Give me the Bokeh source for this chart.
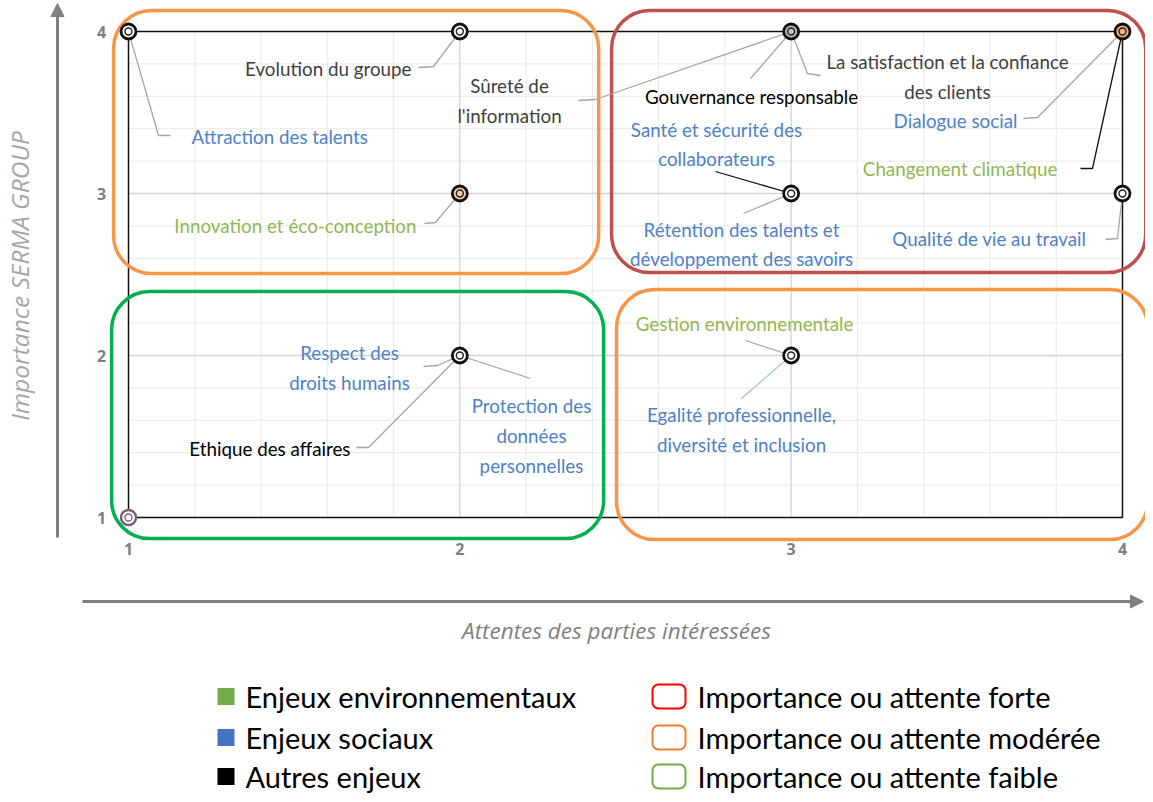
from bokeh.plotting import figure
from bokeh.models import Range1d, Arrow, NormalHead
from bokeh.core.properties import value
from bokeh.embed import file_html
from bokeh.resources import INLINE

# ---------------- data ----------------
labels = [
    "Attraction des talents",
    "Evolution du groupe",
    "Sûreté de\nl'information",
    "Gouvernance responsable",
    "La satisfaction et la confiance\ndes clients",
    "Dialogue social",
    "Changement climatique",
    "Innovation et éco-conception",
    "Santé et sécurité des\ncollaborateurs",
    "Rétention des talents et\ndéveloppement des savoirs",
    "Qualité de vie au travail",
    "Respect des\ndroits humains",
    "Protection des\ndonnées\npersonnelles",
    "Ethique des affaires",
    "Gestion environnementale",
    "Egalité professionnelle,\ndiversité et inclusion",
]
attentes = [1, 2, 3, 3, 3, 4, 4, 2, 3, 3, 4, 2, 2, 2, 3, 3]      # x
importance = [4, 4, 4, 4, 4, 4, 4, 3, 3, 3, 3, 2, 2, 2, 2, 2]    # y
categories = ["soc", "autre", "autre", "autre", "autre", "soc", "env", "env",
              "soc", "soc", "soc", "soc", "soc", "autre", "env", "soc"]
extra_x = [1]   # unlabeled point
extra_y = [1]

x_ticks = [1, 2, 3, 4]
y_ticks = [1, 2, 3, 4]
tick_labels = ["1", "2", "3", "4"]

legend_cat = ["Enjeux environnementaux", "Enjeux sociaux", "Autres enjeux"]
legend_zone = ["Importance ou attente forte", "Importance ou attente modérée",
               "Importance ou attente faible"]

# ---------------- layout helpers (reference pixel -> data) ----------------
def X(px):
    return 1 + (px - 128) / 331.33

def Y(py):
    return 4 - (py - 31) / 162.0

W, H = 1145, 794
p = figure(width=W, height=H, x_range=Range1d(X(0), X(W)),
           y_range=Range1d(Y(H), Y(0)), x_axis_type=None, y_axis_type=None,
           toolbar_location=None, output_backend="svg", min_border=0)
p.outline_line_color = None
p.background_fill_color = "white"
p.border_fill_color = "white"

FONT = "Lato"
LBL_SIZE = "18.8px"
cat_color = {"env": "#8fb852", "soc": "#4f81c4", "autre": "#2b2b2b"}

# ---------------- grid ----------------
minor = [1 + i * 0.2 for i in range(1, 15) if i % 5 != 0]
p.segment(x0=minor, x1=minor, y0=[1] * len(minor), y1=[4] * len(minor),
          line_color="#e9e9e9", line_width=1)
p.segment(x0=[1] * len(minor), x1=[4] * len(minor), y0=minor, y1=minor,
          line_color="#e9e9e9", line_width=1)
p.segment(x0=[2, 3], x1=[2, 3], y0=[1, 1], y1=[4, 4], line_color="#d4d4d4", line_width=1.3)
p.segment(x0=[1, 1], x1=[4, 4], y0=[2, 3], y1=[2, 3], line_color="#d4d4d4", line_width=1.3)
p.quad(left=[1], right=[4], bottom=[1], top=[4], fill_alpha=0,
       line_color="#111111", line_width=1.5)

# ---------------- zones (rounded rectangles) ----------------
zones = [
    (0.955, 2.419, 2.506, 4.13, "#f79646"),
    (2.458, 4.070, 2.512, 4.13, "#c0504d"),
    (0.949, 2.434, 0.870, 2.395, "#00b050"),
    (2.473, 4.076, 0.864, 2.407, "#f79646"),
]
for l, r, b, t, c in zones:
    p.quad(left=[l], right=[r], bottom=[b], top=[t], fill_alpha=0,
           line_color=c, line_width=3.5, border_radius=38)

# ---------------- leader lines ----------------
GRAY = "#a6a6a6"
leaders = [
    ([(158, 135), (170, 135)], GRAY),
    ([(433, 66), (418, 67)], GRAY),
    ([(595, 99), (578, 100)], GRAY),
    ([(750, 78)], GRAY),
    ([(807, 73), (820, 75)], GRAY),
    ([(1037, 117), (1023, 118)], GRAY),
    ([(1092, 168), (1080, 168)], "#111111"),
    ([(435, 222), (424, 223)], GRAY),
    ([(715, 171)], "#111111"),
    ([(743, 213)], GRAY),
    ([(1117, 238), (1105, 239)], GRAY),
    ([(437, 365), (423, 366)], GRAY),
    ([(530, 378)], GRAY),
    ([(368, 447), (356, 447)], GRAY),
    ([(745, 340)], GRAY),
    ([(741, 398)], "#9dc3e6"),
]
for i, (pts, col) in enumerate(leaders):
    xs = [attentes[i]] + [X(a) for a, b in pts]
    ys = [importance[i]] + [Y(b) for a, b in pts]
    p.line(xs, ys, line_color=col, line_width=1.3)

# ---------------- markers ----------------
inner_fill = {(2, 3): "#f8cbad", (4, 4): "#f4b183", (3, 4): "#bfbfbf"}
pts_unique = sorted(set(zip(attentes, importance)))
mx = [a for a, b in pts_unique]
my = [b for a, b in pts_unique]
fills = [inner_fill.get(pt, "white") for pt in pts_unique]
p.scatter(mx, my, size=15, fill_color=fills, line_color="#111111", line_width=2.8)
p.scatter(mx, my, size=7, fill_color=fills, line_color="#222222", line_width=1.4)
p.scatter(extra_x, extra_y, size=15, fill_color="white", line_color="#7b5a7a", line_width=2.4)
p.scatter(extra_x, extra_y, size=7, fill_color="white", line_color="#7b5a7a", line_width=1.3)

# ---------------- labels ----------------
label_pos = [
    (191, 136, "left"), (411, 68, "right"), (509, 100, "center"),
    (751, 96, "center"), (947, 76, "center"), (1017, 120, "right"),
    (1057, 168, "right"), (416, 225, "right"), (716, 143.5, "center"),
    (741, 243.5, "center"), (1086, 238, "right"), (349, 367, "center"),
    (531, 435, "center"), (350, 448, "right"), (744, 323, "center"),
    (741, 429, "center"),
]
label_color_override = {1: "#404040", 2: "#404040", 4: "#404040", 3: "#000000", 13: "#000000"}
for i, txt in enumerate(labels):
    px_, py_, al = label_pos[i]
    col = label_color_override.get(i, cat_color[categories[i]])
    p.text(x=[X(px_)], y=[Y(py_)], text=[txt], text_align=al, text_baseline="middle",
           text_font=value(FONT), text_font_size=LBL_SIZE, text_color=col,
           text_line_height=1.3)

# ---------------- ticks ----------------
p.text(x=x_ticks, y=[Y(548)] * 4, text=tick_labels, text_align="center",
       text_baseline="middle", text_font=value("Open Sans"), text_font_style="bold",
       text_font_size="16px", text_color="#7f7f7f")
p.text(x=[X(101)] * 4, y=y_ticks, text=tick_labels, text_align="center",
       text_baseline="middle", text_font=value("Open Sans"), text_font_style="bold",
       text_font_size="16px", text_color="#7f7f7f")

# ---------------- arrows & axis titles ----------------
ARROW = "#808080"
p.add_layout(Arrow(end=NormalHead(size=13, fill_color=ARROW, line_color=ARROW),
                   x_start=X(57), y_start=Y(537), x_end=X(57), y_end=Y(3),
                   line_color=ARROW, line_width=3))
p.add_layout(Arrow(end=NormalHead(size=13, fill_color=ARROW, line_color=ARROW),
                   x_start=X(82), y_start=Y(601), x_end=X(1143), y_end=Y(601),
                   line_color=ARROW, line_width=3))
p.text(x=[X(19)], y=[Y(275.5)], text=["Importance SERMA GROUP"], angle=1.5708,
       text_align="center", text_baseline="middle", text_font=value("Open Sans"),
       text_font_style="italic", text_font_size="24.5px", text_color="#a6a6a6")
p.text(x=[X(616)], y=[Y(630)], text=["Attentes des parties intéressées"],
       text_align="center", text_baseline="middle", text_font=value("Open Sans"),
       text_font_style="italic", text_font_size="22.5px", text_color="#7f7f7f")

# ---------------- legend ----------------
rows = [696, 737, 776]
cat_sq = ["#70ad47", "#4472c4", "#000000"]
zone_cols = ["#ff0000", "#ed7d31", "#70ad47"]
for k in range(3):
    yc = rows[k]
    p.quad(left=[X(217)], right=[X(234)], bottom=[Y(yc + 8.5)], top=[Y(yc - 8.5)],
           fill_color=cat_sq[k], line_color=None)
    p.text(x=[X(245)], y=[Y(yc)], text=[legend_cat[k]], text_align="left",
           text_baseline="middle", text_font=value(FONT), text_font_size="29px",
           text_color="#000000")
    p.quad(left=[X(652)], right=[X(685)], bottom=[Y(yc + 12)], top=[Y(yc - 12)],
           fill_alpha=0, line_color=zone_cols[k], line_width=2, border_radius=6)
    p.text(x=[X(697)], y=[Y(yc)], text=[legend_zone[k]], text_align="left",
           text_baseline="middle", text_font=value(FONT), text_font_size="29px",
           text_color="#000000")

open("out.html", "w").write(file_html(p, INLINE))
